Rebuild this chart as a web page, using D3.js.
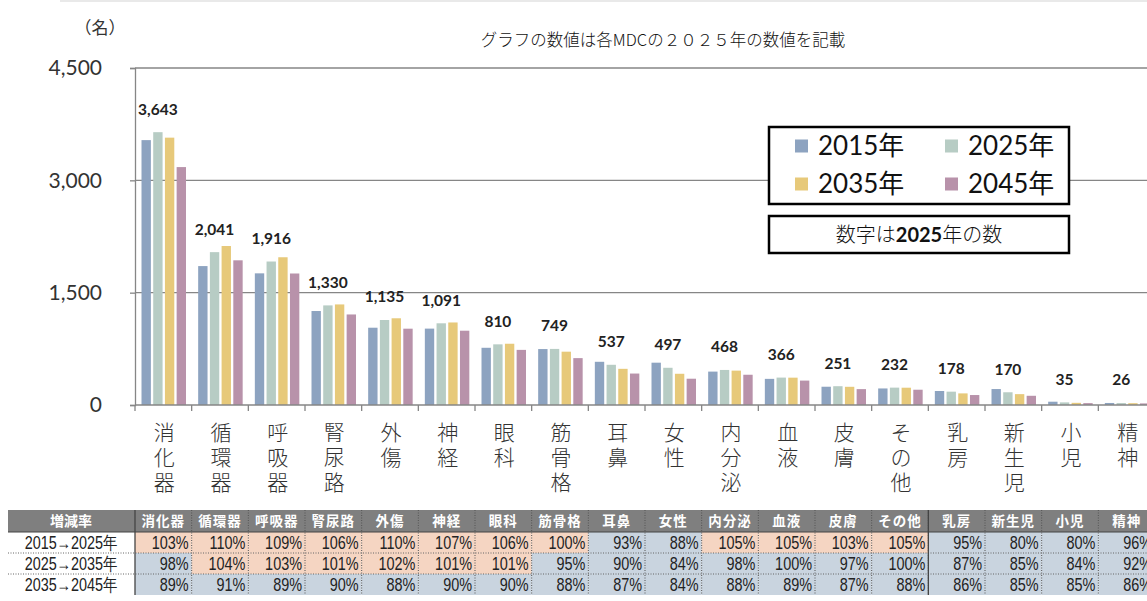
<!DOCTYPE html>
<html><head><meta charset="utf-8">
<script src="https://cdn.jsdelivr.net/npm/d3@7"></script>
<style>
html,body{margin:0;padding:0;background:#fff;}
svg{display:block;}
</style></head>
<body>
<svg id="c" width="1147" height="601"></svg>
<script>
const categories = ["消化器","循環器","呼吸器","腎尿路","外傷","神経","眼科","筋骨格","耳鼻","女性","内分泌","血液","皮膚","その他","乳房","新生児","小児","精神"];
const years = ["2015年","2025年","2035年","2045年"];
const v2015 = [3537,1855,1758,1255,1032,1020,764,747,577,565,446,349,244,221,187,213,44,27];
const v2025 = [3643,2041,1916,1330,1135,1091,810,749,537,497,468,366,251,232,178,170,35,26];
const v2035 = [3570,2123,1973,1343,1158,1102,818,712,483,417,459,365,243,231,155,145,29,24];
const v2045 = [3177,1932,1756,1209,1019,992,736,626,420,351,404,326,212,204,133,123,25,21];
const yTicks = [0,1500,3000,4500];
const rowLabels = ["2015→2025年","2025→2035年","2035→2045年"];
const pct1525 = [103,110,109,106,110,107,106,100,93,88,105,105,103,105,95,80,80,96];
const pct2535 = [98,104,103,101,102,101,101,95,90,84,98,100,97,100,87,85,84,92];
const pct3545 = [89,91,89,90,88,90,90,88,87,84,88,89,87,88,86,85,85,86];

const series = [v2015,v2025,v2035,v2045];
const colors = ["#8DA3C0","#B7CCC4","#E7C97A","#B892AA"];
const svg = d3.select("#c");
const JP = "Lato, 'Noto Sans CJK JP', sans-serif";

const x = d3.scaleBand().domain(categories).range([135,1155]);
const xi = d3.scaleBand().domain(years).range([6.5,51]).paddingInner(0.2);
const y = d3.scaleLinear().domain([0,4500]).range([405,68]);

// faint top rule
svg.append("line").attr("x1",60).attr("x2",1147).attr("y1",1).attr("y2",1).attr("stroke","#e2e2e2").attr("stroke-width",1.5);

// gridlines
svg.append("g").selectAll("line").data(yTicks.filter(d=>d>0)).join("line")
  .attr("x1",135).attr("x2",1147).attr("y1",d=>y(d)).attr("y2",d=>y(d))
  .attr("stroke","#868686").attr("stroke-width",1.3);

// y axis
const yAxis = svg.append("g").attr("transform","translate(135,0)")
  .call(d3.axisLeft(y).tickValues(yTicks).tickSize(5).tickPadding(28).tickFormat(d3.format(",")));
yAxis.select(".domain").attr("stroke","#868686").attr("stroke-width",1.3);
yAxis.selectAll(".tick line").attr("stroke","#868686").attr("stroke-width",1.3);
yAxis.selectAll("text").attr("font-family",JP).attr("font-size",21).attr("fill","#333");

// bars
const groups = svg.append("g").selectAll("g").data(categories).join("g")
  .attr("transform",d=>`translate(${x(d)},0)`);
groups.selectAll("rect").data((d,i)=>series.map((s,k)=>({k,v:s[i]}))).join("rect")
  .attr("x",d=>xi(years[d.k])).attr("width",xi.bandwidth())
  .attr("y",d=>y(d.v)).attr("height",d=>y(0)-y(d.v))
  .attr("fill",d=>colors[d.k]);

// x axis
const xAxis = svg.append("g").attr("transform","translate(0,405)");
xAxis.append("line").attr("x1",135).attr("x2",1147).attr("y1",0).attr("y2",0).attr("stroke","#868686").attr("stroke-width",1.5);
xAxis.selectAll("line.t").data(categories).join("line").attr("class","t")
  .attr("x1",d=>x(d)).attr("x2",d=>x(d)).attr("y1",0).attr("y2",6).attr("stroke","#868686").attr("stroke-width",1.3);

// value labels (2025)
svg.append("g").selectAll("text").data(categories).join("text")
  .attr("x",(d,i)=>x(d)+xi("2025年")+xi.bandwidth()/2)
  .attr("y",(d,i)=>y(v2025[i])-23)
  .attr("dy","0.35em").attr("text-anchor","middle")
  .attr("font-family",JP).attr("font-weight","bold").attr("font-size",15.5).attr("fill","#222")
  .text((d,i)=>d3.format(",")(v2025[i]));

// category labels vertical
const cl = svg.append("g").selectAll("g").data(categories).join("g")
  .attr("transform",d=>`translate(${x(d)+x.bandwidth()/2+1},0)`);
cl.selectAll("text").data(d=>Array.from(d)).join("text")
  .attr("x",0).attr("y",(c,j)=>432+j*25).attr("dy","0.36em").attr("text-anchor","middle")
  .attr("font-family","'Noto Sans CJK JP', sans-serif").attr("font-weight",300).attr("font-size",21).attr("fill","#333")
  .text(c=>c);

// unit & title
svg.append("text").attr("x",100).attr("y",28).attr("dy","0.35em").attr("text-anchor","middle")
  .attr("font-family","'Noto Sans CJK JP', sans-serif").attr("font-size",17).attr("fill","#333").text("（名）");
svg.append("text").attr("x",663).attr("y",40).attr("dy","0.35em").attr("text-anchor","middle")
  .attr("font-family","'Noto Sans CJK JP', sans-serif").attr("font-weight",300).attr("font-size",16.5).attr("fill","#111")
  .text("グラフの数値は各MDCの２０２５年の数値を記載");

// legend
const lg = svg.append("g");
lg.append("rect").attr("x",769).attr("y",127).attr("width",300).attr("height",77)
  .attr("fill","#fff").attr("stroke","#000").attr("stroke-width",2.5);
const li = lg.selectAll("g").data(years).join("g")
  .attr("transform",(d,i)=>`translate(${795+(i%2)*150},${146+Math.floor(i/2)*38})`);
li.append("rect").attr("x",0).attr("y",-6.5).attr("width",13).attr("height",13).attr("fill",(d,i)=>colors[i]);
li.append("text").attr("x",23).attr("y",0).attr("dy","0.36em")
  .attr("font-family",JP).attr("font-size",26).attr("fill","#111").text(d=>d);

const nb = svg.append("g");
nb.append("rect").attr("x",769).attr("y",216).attr("width",300).attr("height",37)
  .attr("fill","#fff").attr("stroke","#000").attr("stroke-width",2.5);
const nt = nb.append("text").attr("x",919).attr("y",235).attr("dy","0.36em").attr("text-anchor","middle")
  .attr("font-family",JP).attr("font-size",20).attr("fill","#111");
nt.append("tspan").attr("font-weight",300).text("数字は");
nt.append("tspan").attr("font-weight","bold").text("2025");
nt.append("tspan").attr("font-weight",300).text("年の数");

// table
const tb = svg.append("g");
const rowsY = [532,553,574];
const rowH = 21;
const NARROW = "'Liberation Sans', Arial, sans-serif";
tb.append("rect").attr("x",8).attr("y",510).attr("width",1147).attr("height",22).attr("fill","#7F7F7F");
tb.append("text").attr("x",71).attr("y",521).attr("dy","0.36em").attr("text-anchor","middle")
  .attr("font-family","'Noto Sans CJK JP', sans-serif").attr("font-weight","bold").attr("font-size",14).attr("fill","#fff").text("増減率");
tb.selectAll("text.h").data(categories).join("text").attr("class","h")
  .attr("x",d=>x(d)+x.bandwidth()/2).attr("y",521).attr("dy","0.36em").attr("text-anchor","middle")
  .attr("font-family","'Noto Sans CJK JP', sans-serif").attr("font-weight","bold").attr("font-size",13.5).attr("fill","#fff")
  .attr("letter-spacing",1).text(d=>d);

const rowData = [
  {pct:pct1525, a:v2015, b:v2025},
  {pct:pct2535, a:v2025, b:v2035},
  {pct:pct3545, a:v2035, b:v2045}
];
const orange = "#F5D5C2", blue = "#C9D4DF";
rowData.forEach((r,ri)=>{
  const yy = rowsY[ri];
  tb.append("text").attr("transform",`translate(71,${yy+rowH/2}) scale(0.8,1)`)
    .attr("dy","0.36em").attr("text-anchor","middle")
    .attr("font-family",NARROW).attr("font-size",18).attr("fill","#222").text(rowLabels[ri]);
  tb.selectAll(null).data(categories).join("rect")
    .attr("x",d=>x(d)).attr("y",yy).attr("width",x.bandwidth()).attr("height",rowH)
    .attr("fill",(d,i)=>r.b[i]>r.a[i]?orange:blue);
  tb.selectAll(null).data(categories).join("text")
    .attr("transform",d=>`translate(${x(d)+x.bandwidth()-3},${yy+rowH/2}) scale(0.78,1)`)
    .attr("dy","0.36em").attr("text-anchor","end")
    .attr("font-family",NARROW).attr("font-size",18.5).attr("fill","#222")
    .text((d,i)=>r.pct[i]+"%");
});
// table lines
tb.append("line").attr("x1",8).attr("x2",1147).attr("y1",532).attr("y2",532).attr("stroke","#444").attr("stroke-width",1.2);
[553,574].forEach(v=>tb.append("line").attr("x1",8).attr("x2",1147).attr("y1",v).attr("y2",v)
  .attr("stroke","#666").attr("stroke-width",1).attr("stroke-dasharray","1,1.5"));
tb.selectAll("line.v").data(categories.slice(1)).join("line").attr("class","v")
  .attr("x1",d=>x(d)).attr("x2",d=>x(d)).attr("y1",510).attr("y2",595)
  .attr("stroke","#555").attr("stroke-width",1).attr("stroke-dasharray","1,1.5");
tb.append("line").attr("x1",135).attr("x2",135).attr("y1",510).attr("y2",595).attr("stroke","#444").attr("stroke-width",1.3);
tb.append("line").attr("x1",x("乳房")).attr("x2",x("乳房")).attr("y1",510).attr("y2",595).attr("stroke","#444").attr("stroke-width",1.3);
</script>
</body></html>
